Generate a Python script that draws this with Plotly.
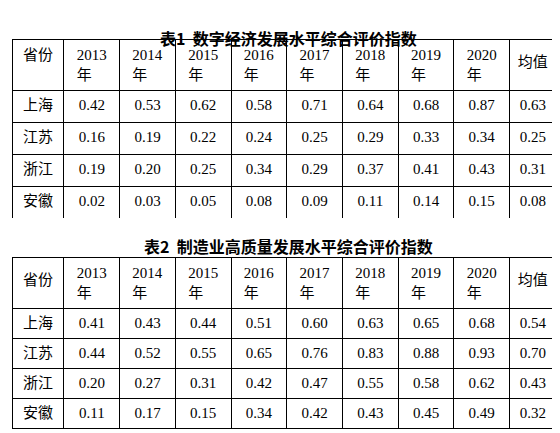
import plotly.graph_objects as go

provinces = ["上海", "江苏", "浙江", "安徽"]
years = ["2013", "2014", "2015", "2016", "2017", "2018", "2019", "2020"]
title1 = "表1  数字经济发展水平综合评价指数"
title2 = "表2  制造业高质量发展水平综合评价指数"
digital = [
    [0.42, 0.53, 0.62, 0.58, 0.71, 0.64, 0.68, 0.87, 0.63],
    [0.16, 0.19, 0.22, 0.24, 0.25, 0.29, 0.33, 0.34, 0.25],
    [0.19, 0.20, 0.25, 0.34, 0.29, 0.37, 0.41, 0.43, 0.31],
    [0.02, 0.03, 0.05, 0.08, 0.09, 0.11, 0.14, 0.15, 0.08],
]
manuf = [
    [0.41, 0.43, 0.44, 0.51, 0.60, 0.63, 0.65, 0.68, 0.54],
    [0.44, 0.52, 0.55, 0.65, 0.76, 0.83, 0.88, 0.93, 0.70],
    [0.20, 0.27, 0.31, 0.42, 0.47, 0.55, 0.58, 0.62, 0.43],
    [0.11, 0.17, 0.15, 0.34, 0.42, 0.43, 0.45, 0.49, 0.32],
]

W, H = 560, 433
FONT = "Liberation Serif, Noto Sans CJK SC, serif"
header_vals = ["<br>省份"] + [y + "<br>年" for y in years] + ["<br>均值"]

def make_table(data, y0, y1, hh, ch):
    cols = [provinces] + [[f"{row[i]:.2f}" for row in data] for i in range(9)]
    return go.Table(
        domain=dict(x=[4 / W, 548 / W], y=[1 - y1 / H, 1 - y0 / H]),
        columnwidth=[56] + [60] * 8 + [50],
        header=dict(values=header_vals, height=hh, align="center",
                    line=dict(color="black", width=1), fill_color="white",
                    font=dict(family=FONT, size=15, color="black")),
        cells=dict(values=cols, height=ch, align="center",
                   line=dict(color="black", width=1), fill_color="white",
                   font=dict(family=FONT, size=15, color="black")),
    )

fig = go.Figure([make_table(digital, 31, 210, 46, 32),
                 make_table(manuf, 249, 433, 50, 30)])
fig.update_layout(
    width=W, height=H, margin=dict(l=0, r=0, t=0, b=0),
    paper_bgcolor="white",
    annotations=[
        dict(text="<b>" + title1 + "</b>", x=0.5, y=1 - 16 / H, xref="paper", yref="paper",
             showarrow=False, font=dict(family="Noto Sans CJK SC", size=16, color="black")),
        dict(text="<b>" + title2 + "</b>", x=0.5, y=1 - 238 / H, xref="paper", yref="paper",
             showarrow=False, font=dict(family="Noto Sans CJK SC", size=16, color="black")),
    ],
)
fig.write_html("out.html")
